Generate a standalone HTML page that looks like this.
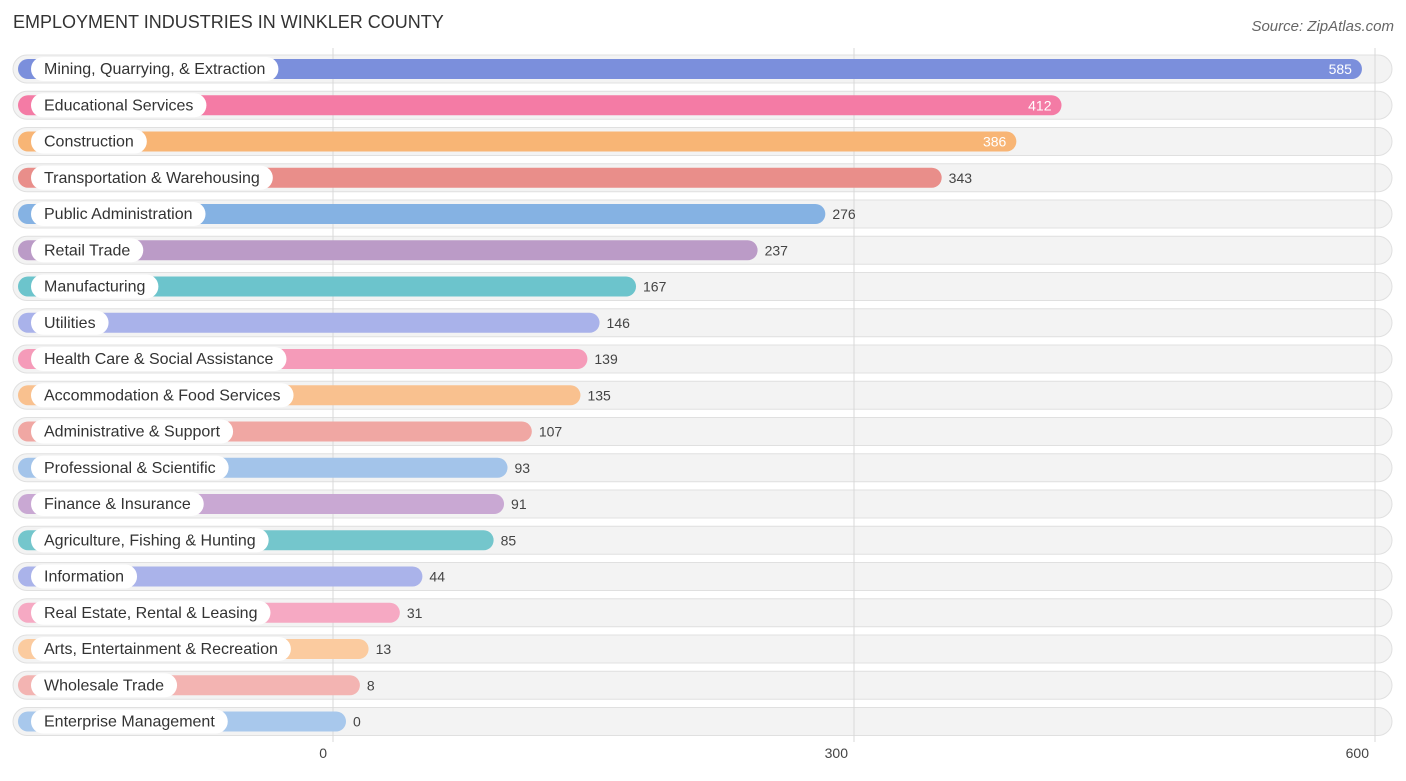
<!DOCTYPE html>
<html><head><meta charset="utf-8"><style>
body{margin:0;width:1406px;height:776px;background:#fff;font-family:"Liberation Sans",sans-serif;overflow:hidden}
</style></head><body>
<svg id="c" width="1406" height="776">
<text x="13" y="28" font-size="18" fill="#333">EMPLOYMENT INDUSTRIES IN WINKLER COUNTY</text>
<text x="1394" y="31" font-size="15" fill="#666" font-style="italic" text-anchor="end">Source: ZipAtlas.com</text>
<g id="rows"></g><g id="grid"></g><g id="rows2"></g>
</svg>
<script>
const categories=["Mining, Quarrying, & Extraction","Educational Services","Construction","Transportation & Warehousing","Public Administration","Retail Trade","Manufacturing","Utilities","Health Care & Social Assistance","Accommodation & Food Services","Administrative & Support","Professional & Scientific","Finance & Insurance","Agriculture, Fishing & Hunting","Information","Real Estate, Rental & Leasing","Arts, Entertainment & Recreation","Wholesale Trade","Enterprise Management"];
const values=[585,412,386,343,276,237,167,146,139,135,107,93,91,85,44,31,13,8,0];
const colors=["#7b8fdc","#f47ba5","#f8b575","#e98e8a","#85b2e3","#bb9bc7","#6cc4cc","#a9b2ea","#f59bb9","#f9c18f","#f0a7a3","#a3c4ea","#c9a8d3","#74c6cc","#aab3ea","#f6a9c3","#fbcb9f","#f3b4b2","#a8c8ec"];
const ticks=[0,300,600];
const NS="http://www.w3.org/2000/svg";
const x0=333,pxu=521/300,barBase=346;
const xs=v=>x0+v*pxu;
const rowY=i=>69+i*36.25;
function mk(t,a,p){const e=document.createElementNS(NS,t);for(const k in a)e.setAttribute(k,a[k]);p.appendChild(e);return e;}
const grid=document.getElementById('grid'),rows=document.getElementById('rows'),rows2=document.getElementById('rows2');
ticks.forEach(t=>{
 const l=mk('line',{x1:xs(t),x2:xs(t),y1:48,y2:742,stroke:'#d8d8d8','stroke-width':1},grid);
 
 const tx=mk('text',{x:xs(t)-6,y:758,'font-size':14,fill:'#444','text-anchor':'end'},grid);
 tx.textContent=t;
});
categories.forEach((c,i)=>{
 const y=rowY(i),v=values[i];
 const tr=mk('rect',{x:13,y:y-14,width:1379,height:28,rx:14,fill:'#f3f3f3',stroke:'#e0e0e0','stroke-width':1},rows);
 
 const g=mk('g',{},rows2);
 const end=barBase+v*pxu;
 const b=mk('rect',{x:18,y:y-10,width:end-18,height:20,rx:10,fill:colors[i]},g);
 
 const tmp=mk('text',{x:44,y:y+5,'font-size':16,fill:'#333'},g);tmp.textContent=c;
 const w=tmp.getComputedTextLength();
 const pill=mk('rect',{x:31,y:y-12,width:w+26,height:24,rx:12,fill:'#fff'},g);
 
 g.appendChild(tmp);
 const inside=v>=380;
 const vt=mk('text',{x:inside?end-10:end+7,y:y+5,'font-size':14,fill:inside?'#fff':'#444','text-anchor':inside?'end':'start'},g);
 vt.textContent=v;
});
</script>
</body></html>
